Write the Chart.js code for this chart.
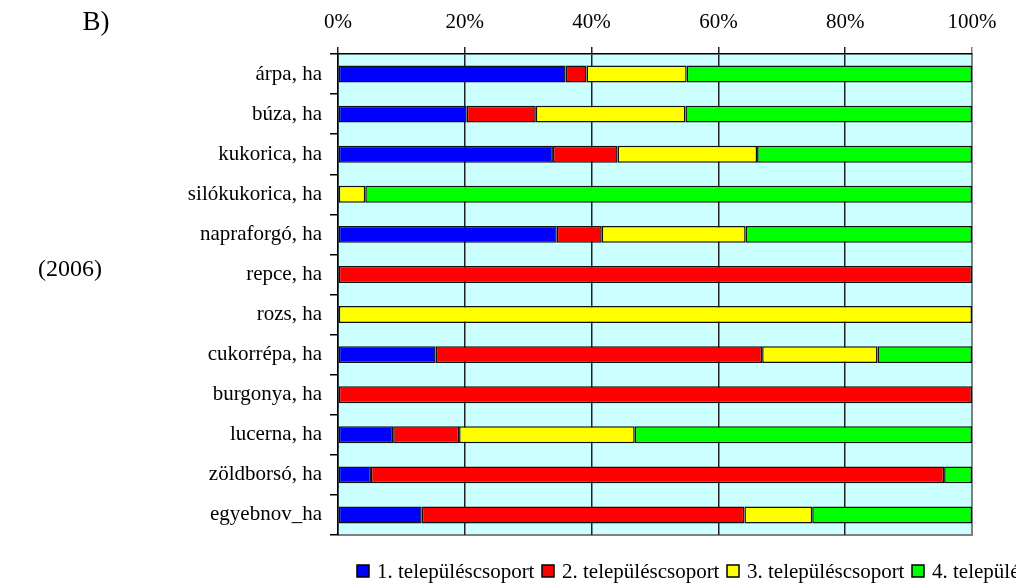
<!DOCTYPE html>
<html>
<head>
<meta charset="utf-8">
<script src="https://cdn.jsdelivr.net/npm/chart.js@4"></script>
<style>
  html, body { margin: 0; padding: 0; background: #fff; overflow: hidden; }
  #wrap { width: 1016px; height: 586px; position: relative; }
</style>
</head>
<body>
<div id="wrap"><canvas id="grafica"></canvas></div>
<script>
// categories (crops)
const categories = ['árpa, ha', 'búza, ha', 'kukorica, ha', 'silókukorica, ha', 'napraforgó, ha', 'repce, ha',
  'rozs, ha', 'cukorrépa, ha', 'burgonya, ha', 'lucerna, ha', 'zöldborsó, ha', 'egyebnov_ha'];

// share of each settlement group, %
const group1 = [35.9, 20.3, 33.9, null, 34.5, null, null, 15.4, null, 8.7, 5.2, 13.2];
const group2 = [3.3, 10.9, 10.2, null, 7.1, 100, null, 51.5, 100, 10.4, 90.4, 50.9];
const group3 = [15.8, 23.6, 22.0, 4.3, 22.7, null, 100, 18.2, null, 27.7, null, 10.7];
const group4 = [45.0, 45.2, 33.9, 95.7, 35.7, null, null, 14.9, null, 53.2, 4.4, 25.2];

const seriesNames = ['1. településcsoport', '2. településcsoport', '3. településcsoport', '4. településcsoport'];
const seriesColors = ['#0000ff', '#ff0000', '#ffff00', '#00ff00'];
const xTicks = [0, 20, 40, 60, 80, 100];

const serif = "'Liberation Serif', 'DejaVu Serif', serif";

// cyan plot background + gray frame on right / bottom
const fondo = {
  id: 'fondo',
  beforeDraw(chart) {
    const a = chart.chartArea, c = chart.ctx;
    c.save();
    c.fillStyle = '#ccffff';
    c.fillRect(a.left, a.top, a.right - a.left, a.bottom - a.top);
    c.strokeStyle = '#808080';
    c.lineWidth = 2;
    c.beginPath();
    c.moveTo(a.right, a.top);
    c.lineTo(a.right, a.bottom);
    c.lineTo(a.left, a.bottom);
    c.stroke();
    c.restore();
  }
};

// legend along the bottom + side texts
const extras = {
  id: 'extras',
  afterDraw(chart) {
    const c = chart.ctx;
    c.save();
    c.fillStyle = '#000';
    c.font = '27px ' + serif;
    c.textAlign = 'center';
    c.textBaseline = 'middle';
    c.fillText('B)', 96, 23);
    c.font = '24px ' + serif;
    c.fillText('(2006)', 70, 270);

    c.font = '21px ' + serif;
    c.textAlign = 'left';
    let x = 357;
    chart.data.datasets.forEach(ds => {
      c.fillStyle = ds.backgroundColor;
      c.fillRect(x, 565, 12, 12);
      c.strokeStyle = '#000';
      c.lineWidth = 1.5;
      c.strokeRect(x, 565, 12, 12);
      c.fillStyle = '#000';
      c.fillText(ds.label, x + 20, 572);
      x += 185;
    });
    c.restore();
  }
};

const datos = [group1, group2, group3, group4];

new Chart(document.getElementById('grafica'), {
  type: 'bar',
  data: {
    labels: categories,
    datasets: datos.map((d, i) => ({
      label: seriesNames[i],
      data: d,
      backgroundColor: seriesColors[i],
      borderColor: '#111',
      borderWidth: 1.5,
      borderSkipped: false,
      categoryPercentage: 1,
      barPercentage: 0.42
    }))
  },
  options: {
    indexAxis: 'y',
    responsive: true,
    maintainAspectRatio: false,
    animation: false,
    layout: { padding: { top: 0, left: 0, right: 44, bottom: 51 } },
    plugins: { legend: { display: false }, tooltip: { enabled: false } },
    scales: {
      x: {
        position: 'top',
        stacked: true,
        min: 0,
        max: 100,
        afterBuildTicks: s => { s.ticks = xTicks.map(v => ({ value: v })); },
        afterFit: s => { s.height = 54; },
        ticks: {
          color: '#000',
          font: { family: serif, size: 21 },
          padding: 12,
          maxRotation: 0,
          callback: v => v + '%'
        },
        grid: {
          color: ctx => (ctx.tick && ctx.tick.value === 100) ? '#808080' : '#222',
          lineWidth: 1.5,
          tickLength: 7
        },
        border: { display: true, color: '#000', width: 1.5 }
      },
      y: {
        stacked: true,
        afterFit: s => { s.width = 338; },
        ticks: {
          color: '#000',
          font: { family: serif, size: 21 },
          padding: 8
        },
        grid: {
          drawOnChartArea: false,
          color: '#000',
          lineWidth: 1.5,
          tickLength: 8
        },
        border: { display: true, color: '#000', width: 1.5 }
      }
    }
  },
  plugins: [fondo, extras]
});
</script>
</body>
</html>
